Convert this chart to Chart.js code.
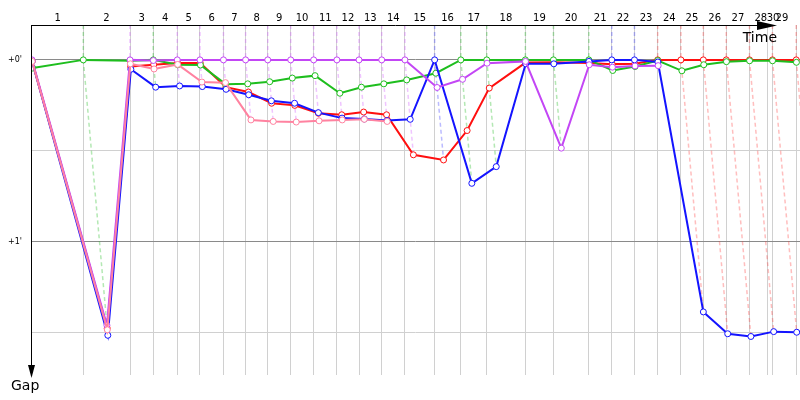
<!DOCTYPE html>
<html>
<head>
<meta charset="utf-8">
<script src="https://cdn.jsdelivr.net/npm/chart.js@4/dist/chart.umd.min.js"></script>
<style>
html, body { margin: 0; padding: 0; background: #fff; }
</style>
</head>
<body>
<canvas id="gapChart" width="800" height="400"></canvas>
<script>
// race time (s) of the leader at the end of each lap, index 0 = start
var lapEnds = [0, 190, 363, 449, 538, 622, 709, 791, 873, 958, 1043, 1129, 1211, 1295, 1381,
               1491, 1588, 1684, 1827, 1931, 2062, 2147, 2231, 2317, 2403, 2486, 2571, 2657, 2742, 2830];
var extraGrid = [2725];

// lap numbers on the time axis and where they sit (s)
var lapLabels = ['1', '2', '3', '4', '5', '6', '7', '8', '9', '10', '11', '12', '13', '14', '15',
                 '16', '17', '18', '19', '20', '21', '22', '23', '24', '25', '26', '27', '28', '29', '30'];
var lapLabelPos = [95, 276, 406, 493, 580, 665, 750, 832, 915, 1000, 1086, 1170, 1253, 1338, 1436,
                   1539, 1636, 1755, 1879, 1996, 2104, 2189, 2274, 2360, 2444, 2528, 2614, 2699, 2777, 2744];

// gap to the leader (s) at the end of each lap, null = not running
var gapPink   = [0.5, 89.0, 1.3, 3.0, 1.5, 7.3, 7.5, 19.8, 20.3, 20.5, 20.1, 19.8, 19.6, 20.3];
var gapPurple = [0.0, 87.5, 0.0, 0.2, 0.0, 0.0, 0.0, 0.0, 0.0, 0.0, 0.0, 0.0, 0.0, 0.0, 0.0,
                 9.1, 6.4, 1.1, 0.5, 29.1, 1.6, 2.4, 2.0, 1.9];
var gapBlue   = [0.5, 90.8, 3.1, 9.0, 8.6, 8.8, 9.7, 11.5, 13.5, 14.3, 17.4, 19.2, 19.5, 20.0, 19.6,
                 0.0, 40.7, 35.2, 1.3, 1.3, 0.5, 0.0, 0.0, 0.7, 83.1, 90.3, 91.2, 89.6, 89.8, 89.5];
var gapGreen  = [2.7, 0.0, 0.3, 0.0, 1.6, 1.7, 8.0, 7.9, 7.2, 6.0, 5.2, 11.0, 9.0, 7.9, 6.6,
                 4.4, 0.0, 0.0, 0.0, 0.0, 0.0, 3.5, 2.2, 0.2, 3.6, 1.6, 0.6, 0.3, 0.3, 0.8];
var gapRed    = [0.5, 88.5, 2.2, 1.6, 1.0, 1.0, 9.0, 10.6, 14.3, 15.0, 17.6, 18.1, 17.2, 18.1, 31.3,
                 33.0, 23.3, 9.3, 0.9, 0.8, 1.0, 1.4, 1.3, 0.0, 0.0, 0.0, 0.0, 0.0, 0.0, 0.0];

var drivers = [
    { gaps: gapPink,   color: 'rgb(255, 130, 160)', lap: 'rgba(255, 130, 200, 0.35)' },
    { gaps: gapPurple, color: 'rgb(195, 70, 245)',  lap: 'rgba(210, 90, 255, 0.35)' },
    { gaps: gapBlue,   color: 'rgb(20, 20, 255)',   lap: 'rgba(60, 60, 255, 0.35)' },
    { gaps: gapGreen,  color: 'rgb(30, 190, 30)',   lap: 'rgba(40, 190, 40, 0.35)' },
    { gaps: gapRed,    color: 'rgb(255, 15, 15)',   lap: 'rgba(255, 40, 40, 0.3)' }
];

var Y_MIN = -11.5, Y_MAX = 103.9;
var X_MIN = -3.7, X_MAX = 2844;

var datasets = [];

drivers.forEach(function (d) {
    var pts = [];
    d.gaps.forEach(function (g, lap) {
        if (g !== null && g !== undefined) pts.push({ x: lapEnds[lap] + g, y: g });
    });
    datasets.push({
        data: pts,
        borderColor: d.color,
        borderWidth: 2,
        pointRadius: 3,
        pointBorderWidth: 1,
        pointBackgroundColor: '#fff',
        pointBorderColor: d.color,
        tension: 0,
        xAxisID: 'x'
    });
});

// dashed lap lines: leader down through everyone on the same lap
for (var lap = 1; lap < lapEnds.length; lap++) {
    var onLap = [];
    drivers.forEach(function (d) {
        var g = d.gaps[lap];
        if (g !== null && g !== undefined) onLap.push({ g: g, d: d });
    });
    if (!onLap.length) continue;
    onLap.sort(function (a, b) { return a.g - b.g; });
    var pts = [{ x: lapEnds[lap], y: Y_MIN }];
    onLap.forEach(function (o) { pts.push({ x: lapEnds[lap] + o.g, y: o.g }); });
    datasets.push({
        data: pts,
        borderColor: onLap[0].d.lap,
        borderWidth: 1.5,
        borderDash: [4, 3],
        pointRadius: 0,
        tension: 0,
        xAxisID: 'x'
    });
}

var axisArrows = {
    id: 'axisArrows',
    afterDraw: function (chart) {
        var ctx = chart.ctx, a = chart.chartArea;
        ctx.save();
        ctx.strokeStyle = '#000';
        ctx.fillStyle = '#000';
        ctx.lineWidth = 1;
        // time axis
        ctx.beginPath();
        ctx.moveTo(a.left, a.top + 0.5);
        ctx.lineTo(760, a.top + 0.5);
        ctx.stroke();
        ctx.beginPath();
        ctx.moveTo(757, a.top - 4);
        ctx.lineTo(777, a.top + 0.5);
        ctx.lineTo(757, a.top + 5);
        ctx.closePath();
        ctx.fill();
        // gap axis
        ctx.beginPath();
        ctx.moveTo(a.left + 0.5, a.top);
        ctx.lineTo(a.left + 0.5, 368);
        ctx.stroke();
        ctx.beginPath();
        ctx.moveTo(a.left - 3, 365);
        ctx.lineTo(a.left + 0.5, 378);
        ctx.lineTo(a.left + 4, 365);
        ctx.closePath();
        ctx.fill();

        ctx.font = '14px "DejaVu Sans"';
        ctx.textBaseline = 'alphabetic';
        ctx.textAlign = 'right';
        ctx.fillText('Time', 777, 42);
        ctx.textAlign = 'left';
        ctx.fillText('Gap', 11, 390);
        ctx.restore();
    }
};

function noSidePadding(s) {
    s.paddingLeft = 0;
    s.paddingRight = 0;
}

new Chart(document.getElementById('gapChart').getContext('2d'), {
    type: 'line',
    data: { datasets: datasets },
    plugins: [axisArrows],
    options: {
        responsive: false,
        animation: false,
        layout: { autoPadding: false, padding: { left: 0, right: 0, top: 0, bottom: 25 } },
        plugins: { legend: { display: false }, tooltip: { enabled: false } },
        scales: {
            x: {
                type: 'linear',
                position: 'top',
                min: X_MIN,
                max: X_MAX,
                afterBuildTicks: function (s) {
                    s.ticks = lapEnds.concat(extraGrid).map(function (v) { return { value: v }; });
                },
                afterFit: function (s) { s.height = 0; noSidePadding(s); },
                ticks: { display: false },
                grid: { color: '#d0d0d0', drawTicks: false, lineWidth: 1 },
                border: { display: false }
            },
            xTop: {
                type: 'linear',
                position: 'top',
                min: X_MIN,
                max: X_MAX,
                afterBuildTicks: function (s) {
                    s.ticks = lapLabelPos.map(function (v) { return { value: v }; });
                },
                afterFit: function (s) { s.height = 25; noSidePadding(s); },
                ticks: {
                    autoSkip: false,
                    maxRotation: 0,
                    padding: 1,
                    color: '#000',
                    font: { family: 'DejaVu Sans', size: 10 },
                    callback: function (v, i) { return lapLabels[i]; }
                },
                grid: { display: false, drawTicks: false },
                border: { display: false }
            },
            y: {
                type: 'linear',
                reverse: true,
                min: Y_MIN,
                max: Y_MAX,
                afterBuildTicks: function (s) {
                    s.ticks = [0, 30, 60, 90].map(function (v) { return { value: v }; });
                },
                afterFit: function (s) { s.width = 31; s.paddingTop = 0; s.paddingBottom = 0; },
                ticks: {
                    padding: 9,
                    color: '#000',
                    font: { family: 'DejaVu Sans', size: 8 },
                    callback: function (v) {
                        if (v === 0) return "+0'";
                        if (v === 60) return "+1'";
                        return '';
                    }
                },
                grid: {
                    drawTicks: false,
                    color: function (c) {
                        return c.tick && c.tick.value % 60 === 0 ? '#8a8a8a' : '#d0d0d0';
                    }
                },
                border: { display: false }
            }
        }
    }
});
</script>
</body>
</html>
